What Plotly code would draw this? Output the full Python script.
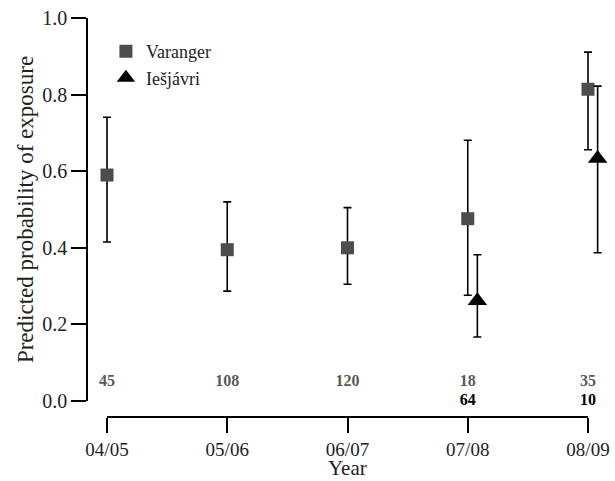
import plotly.graph_objects as go

years = ["04/05", "05/06", "06/07", "07/08", "08/09"]

var_idx = [0, 1, 2, 3, 4]
var_p = [0.59, 0.395, 0.40, 0.476, 0.814]
var_lo = [0.415, 0.287, 0.305, 0.276, 0.656]
var_hi = [0.741, 0.52, 0.505, 0.681, 0.911]
var_n = [45, 108, 120, 18, 35]

ies_idx = [3, 4]
ies_p = [0.262, 0.633]
ies_lo = [0.167, 0.387]
ies_hi = [0.382, 0.822]
ies_n = [64, 10]

OFFSET = 0.08
FONT = "Liberation Serif"
TXT = "#222222"

fig = go.Figure()

fig.add_trace(go.Scatter(
    x=var_idx, y=var_p, mode="markers", name="Varanger",
    marker=dict(symbol="square", size=13, color="#4d4d4d"),
    error_y=dict(type="data", symmetric=False,
                 array=[h - p for h, p in zip(var_hi, var_p)],
                 arrayminus=[p - l for p, l in zip(var_p, var_lo)],
                 color="black", thickness=1.6, width=4),
    cliponaxis=False,
))
fig.add_trace(go.Scatter(
    x=[i + OFFSET for i in ies_idx], y=ies_p, mode="markers", name="Iešjávri",
    marker=dict(symbol="triangle-up", size=17, color="black"),
    error_y=dict(type="data", symmetric=False,
                 array=[h - p for h, p in zip(ies_hi, ies_p)],
                 arrayminus=[p - l for p, l in zip(ies_p, ies_lo)],
                 color="black", thickness=1.6, width=4),
    cliponaxis=False,
))

# sample sizes
fig.add_trace(go.Scatter(
    x=var_idx, y=[0.05] * len(var_idx), mode="text",
    text=[f"<b>{n}</b>" for n in var_n],
    textfont=dict(family=FONT, size=16, color="#5a5a5a"),
    xaxis="x2", yaxis="y", showlegend=False, cliponaxis=False, hoverinfo="skip",
))
fig.add_trace(go.Scatter(
    x=ies_idx, y=[0.0] * len(ies_idx), mode="text",
    text=[f"<b>{n}</b>" for n in ies_n],
    textfont=dict(family=FONT, size=16, color="black"),
    xaxis="x2", yaxis="y", showlegend=False, cliponaxis=False, hoverinfo="skip",
))

W, H = 615, 481
ml, mr, mt, mb = 88, 0, 18, 64
pw = W - ml - mr
ph = H - mt - mb
px_per_unit = 120.25
x0_px = 107  # pixel of first category
d0 = (x0_px - ml) / pw
d1 = (x0_px + 4 * px_per_unit - ml) / pw
rng_lo = -(x0_px - ml) / px_per_unit
rng_hi = (W - mr - x0_px) / px_per_unit
y_dom0 = 16 / ph

fig.update_layout(
    width=W, height=H,
    margin=dict(l=ml, r=mr, t=mt, b=mb, autoexpand=False),
    plot_bgcolor="rgba(0,0,0,0)", paper_bgcolor="white",
    font=dict(family=FONT, size=19, color=TXT),
    showlegend=True,
    legend=dict(x=0.034, y=0.962, xanchor="left", yanchor="top",
                font=dict(family=FONT, size=18, color=TXT),
                bgcolor="rgba(0,0,0,0)", tracegroupgap=0, itemwidth=30),
    xaxis=dict(range=[rng_lo, rng_hi], visible=False, domain=[0, 1],
               showgrid=False, automargin=False),
    xaxis2=dict(domain=[d0, d1], range=[0, 4], anchor="free", position=0,
                tickvals=list(range(len(years))), ticktext=years,
                showline=True, linecolor="black", linewidth=1.5,
                ticks="outside", ticklen=15, tickwidth=1.5, tickcolor="black",
                showgrid=False, zeroline=False, automargin=False,
                tickfont=dict(family=FONT, size=19, color=TXT)),
    yaxis=dict(domain=[y_dom0, 1], range=[0, 1], anchor="x",
               tickvals=[0, 0.2, 0.4, 0.6, 0.8, 1.0], tickformat=".1f",
               showline=True, linecolor="black", linewidth=1.5,
               ticks="outside", ticklen=15, tickwidth=1.5, tickcolor="black",
               showgrid=False, zeroline=False, automargin=False,
               tickfont=dict(family=FONT, size=20, color=TXT),
               title=dict(text="Predicted probability of exposure", standoff=2,
                          font=dict(family=FONT, size=23, color=TXT))),
    annotations=[dict(text="Year", xref="x2 domain", yref="paper",
                      x=0.5, y=-(468 - 417) / ph, xanchor="center", yanchor="middle",
                      showarrow=False,
                      font=dict(family=FONT, size=21, color=TXT))],
)

fig.write_html("out.html", config={"displayModeBar": False},
               post_script="document.body.style.margin='0';")
